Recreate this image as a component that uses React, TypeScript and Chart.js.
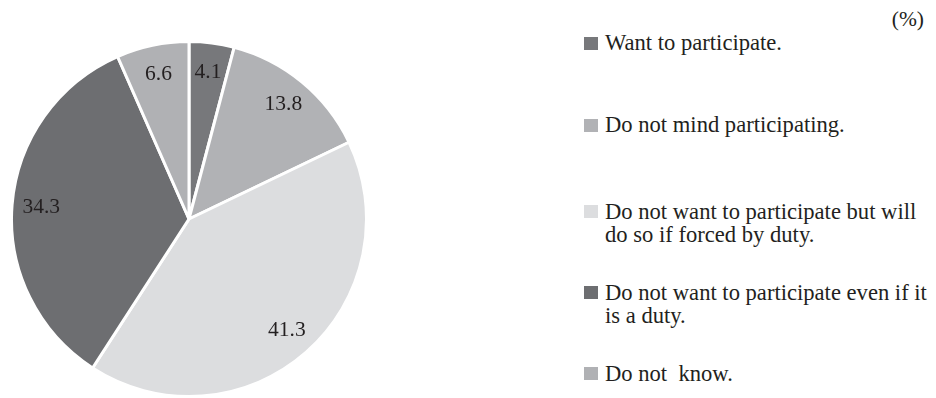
import React, { useEffect, useRef } from "react";
import { Chart, registerables } from "chart.js";

Chart.register(...registerables);

// ---- data ----
const categories: string[] = [
  "Want to participate.",
  "Do not mind participating.",
  "Do not want to participate but will\ndo so if forced by duty.",
  "Do not want to participate even if it\nis a duty.",
  "Do not  know.",
];
const values: number[] = [4.1, 13.8, 41.3, 34.3, 6.6];
const valueLabels: string[] = ["4.1", "13.8", "41.3", "34.3", "6.6"];
const sliceColors: string[] = ["#77787b", "#b1b2b5", "#dcdddf", "#6d6e71", "#b0b1b4"];
const unitLabel = "(%)";

// ---- layout / style ----
const FONT = '"Liberation Serif", "Times New Roman", serif';
const TEXT_COLOR = "#231f20";
const legendTops = [43, 125, 211.7, 292.7, 373.3];
const LINE_H = 23.5;

const sliceLabelPlugin = {
  id: "sliceLabels",
  afterDatasetsDraw(chart: any) {
    const ctx = chart.ctx;
    const meta = chart.getDatasetMeta(0);
    ctx.save();
    ctx.font = `21.5px ${FONT}`;
    ctx.fillStyle = TEXT_COLOR;
    ctx.textAlign = "center";
    ctx.textBaseline = "middle";
    meta.data.forEach((arc: any, i: number) => {
      const p = arc.getProps(["x", "y", "startAngle", "endAngle", "outerRadius"], true);
      const mid = (p.startAngle + p.endAngle) / 2;
      const r = p.outerRadius * 0.835;
      ctx.fillText(valueLabels[i], p.x + Math.cos(mid) * r, p.y + Math.sin(mid) * r);
    });
    ctx.restore();
  },
};

export default function App() {
  const canvasRef = useRef<HTMLCanvasElement | null>(null);

  useEffect(() => {
    if (!canvasRef.current) return;
    const chart = new Chart(canvasRef.current, {
      type: "pie",
      data: {
        labels: categories,
        datasets: [
          {
            data: values,
            backgroundColor: sliceColors,
            borderColor: "#ffffff",
            borderWidth: 3,
          },
        ],
      },
      options: {
        responsive: false,
        maintainAspectRatio: false,
        animation: false,
        layout: { padding: 0 },
        plugins: {
          legend: { display: false },
          tooltip: { enabled: false },
        },
      },
      plugins: [sliceLabelPlugin],
    });
    return () => chart.destroy();
  }, []);

  return (
    <div
      style={{
        position: "fixed",
        left: 0,
        top: 0,
        width: 936,
        height: 398,
        background: "#ffffff",
        fontFamily: FONT,
        color: TEXT_COLOR,
        overflow: "hidden",
      }}
    >
      <div style={{ position: "absolute", left: 10, top: 40, width: 358, height: 358 }}>
        <canvas ref={canvasRef} width={358} height={358} style={{ display: "block" }} />
      </div>
      <div
        style={{
          position: "absolute",
          right: 12,
          top: 20 - LINE_H / 2,
          fontSize: 21.5,
          lineHeight: `${LINE_H}px`,
        }}
      >
        {unitLabel}
      </div>
      {categories.map((c, i) => (
        <div key={i} style={{ position: "absolute", left: 584, top: legendTops[i] - LINE_H / 2 }}>
          <div
            style={{
              position: "absolute",
              left: 0,
              top: LINE_H / 2 - 6.5,
              width: 14,
              height: 13,
              background: sliceColors[i],
            }}
          />
          <div
            style={{
              position: "absolute",
              left: 21,
              top: 0,
              whiteSpace: "pre",
              fontSize: 22.6,
              lineHeight: `${LINE_H}px`,
            }}
          >
            {c}
          </div>
        </div>
      ))}
    </div>
  );
}
